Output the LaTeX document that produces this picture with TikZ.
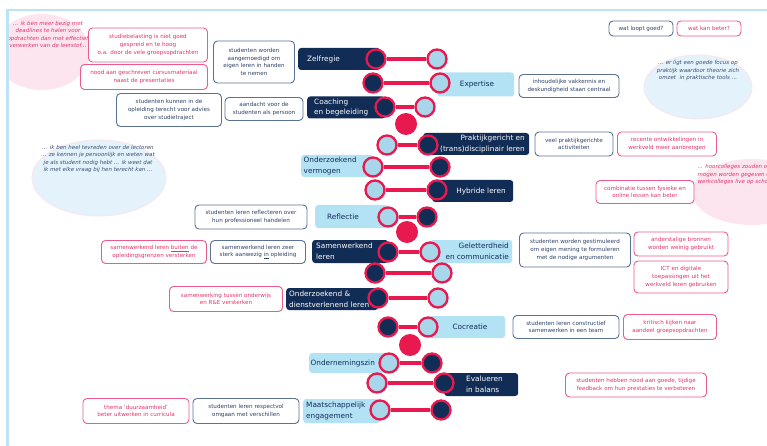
\documentclass[tikz,border=0pt]{standalone}
\usepackage{fontspec}
\setmainfont{DejaVu Sans}
\definecolor{navy}{HTML}{112C55}
\definecolor{lbox}{HTML}{B4E2F5}
\definecolor{lcirc}{HTML}{A8D6EA}
\definecolor{hred}{HTML}{E8194F}
\definecolor{bbord}{HTML}{5A7296}
\definecolor{btext}{HTML}{2C4166}
\definecolor{pbord}{HTML}{EB5C8C}
\definecolor{ptext}{HTML}{E2336A}
\definecolor{framec}{HTML}{BDE3F8}
\definecolor{qblue}{HTML}{E3F2FB}
\definecolor{qpink}{HTML}{FCE5EE}
\definecolor{qbtext}{HTML}{3A4E73}
\begin{document}
\begin{tikzpicture}[x=1pt,y=-1pt,
  cbox/.style={draw, fill=white, rounded corners=4pt, line width=0.9pt, align=center, inner sep=0pt, font=\fontsize{5.6}{7.6}\selectfont},
  bbox/.style={cbox, draw=bbord, text=btext},
  pbox/.style={cbox, draw=pbord, text=ptext},
  lab/.style={rounded corners=3pt, inner sep=0pt, anchor=west},
  navylab/.style={lab, fill=navy},
  lightlab/.style={lab, fill=lbox},
  labtxt/.style={inner sep=0pt, font=\fontsize{7.3}{10.8}\selectfont},
  navytxt/.style={labtxt, text=white},
  lighttxt/.style={labtxt, text=navy},
  dk/.style={circle, draw=hred, line width=2.3pt, fill=navy, minimum size=19pt, inner sep=0pt},
  lt/.style={dk, fill=lcirc},
  rd/.style={circle, fill=hred, minimum size=22pt, inner sep=0pt},
  bar/.style={draw=hred, line width=4pt},
  quote/.style={font=\fontsize{5.5}{7.5}\selectfont\itshape, align=center, inner sep=0pt}
]
\useasboundingbox (0,0) rectangle (767,446);
\fill[white] (0,0) rectangle (767,446);

% quote clouds
\begin{scope}
\clip (8.8,0) rectangle (767,446);
\fill[qpink] (42,52) ellipse (48 and 38);
\node[quote, text=ptext] (q1) at (48,34.5) {... ik ben meer bezig met\\deadlines te halen voor\\opdrachten dan met effectief\\verwerken van de leerstof...};
\fill[qblue, draw=qpink, line width=1pt] (99,178) ellipse (67 and 38);
\node[quote, text=qbtext] (q2) at (98,159) {... ik ben heel tevreden over de lectoren\\... ze kennen je persoonlijk en weten wat\\je als student nodig hebt ... ik weet dat\\ik met elke vraag bij hen terecht kan ...};
\fill[qblue, draw=qpink, line width=1pt] (698,87) ellipse (54 and 32);
\node[quote, text=qbtext] (q3) at (698,70.5) {... er ligt een goede focus op\\praktijk waardoor theorie zich\\omzet\ \ in praktische tools ...};
\fill[qpink] (752,192) ellipse (60 and 33);
\node[quote, text=ptext, align=left, anchor=west] (q4) at (697.5,174.5) {... hoorcolleges zouden online\\mogen worden gegeven en\\werkcolleges live op school ...};
\end{scope}

% frame
\draw[framec, line width=2.6pt] (7.5,446) -- (7.5,10) -- (767,10);

% label boxes
\node[navylab, minimum width=82pt, minimum height=22pt] (bZelf) at (298,59) {};
\node[lightlab, minimum width=77pt, minimum height=24pt] (bExp) at (437,84.5) {};
\node[navylab, minimum width=78pt, minimum height=22pt] (bCoach) at (307,107.5) {};
\node[navylab, minimum width=106pt, minimum height=22pt] (bPrak) at (423,144) {};
\node[lightlab, minimum width=72pt, minimum height=22pt] (bOnd) at (301,166) {};
\node[navylab, minimum width=81pt, minimum height=22pt] (bHyb) at (432,191) {};
\node[lightlab, minimum width=73pt, minimum height=23pt] (bRefl) at (315,216.5) {};
\node[navylab, minimum width=76pt, minimum height=23pt] (bSam) at (312,251.5) {};
\node[lightlab, minimum width=82pt, minimum height=23pt] (bGel) at (430,251.5) {};
\node[navylab, minimum width=92pt, minimum height=22pt] (bOD) at (286,299) {};
\node[lightlab, minimum width=77pt, minimum height=22pt] (bCoc) at (428,327) {};
\node[lightlab, minimum width=80pt, minimum height=20pt] (bOnz) at (309,363) {};
\node[navylab, minimum width=74pt, minimum height=23pt] (bEval) at (444,384.5) {};
\node[lightlab, minimum width=77pt, minimum height=24pt] (bMaat) at (303,411) {};

% label texts
\node[navytxt, anchor=west] (tZelf) at (307,59) {Zelfregie};
\node[lighttxt] (tExp) at (477,84.5) {Expertise};
\node[navytxt, anchor=west, align=left] (tCoach) at (314,107.5) {Coaching\\en begeleiding};
\node[navytxt, anchor=east, align=right] (tPrak) at (525,144) {Praktijkgericht en\\(trans)disciplinair leren};
\node[lighttxt, anchor=west, align=left] (tOnd) at (303.5,166) {Onderzoekend\\vermogen};
\node[navytxt] (tHyb) at (481,191) {Hybride leren};
\node[lighttxt] (tRefl) at (343,216.5) {Reflectie};
\node[navytxt, anchor=west, align=left] (tSam) at (316,251.5) {Samenwerkend\\leren};
\node[lighttxt, anchor=east, align=right] (tGel) at (509,251.5) {Geletterdheid\\en communicatie};
\node[navytxt, anchor=west, align=left] (tOD) at (289,299) {Onderzoekend \&\\dienstverlenend leren};
\node[lighttxt] (tCoc) at (470,327) {Cocreatie};
\node[lighttxt, anchor=west] (tOnz) at (310.5,363) {Ondernemingszin};
\node[navytxt, anchor=west, align=left] (tEval) at (466,384.5) {Evalueren\\in balans};
\node[lighttxt, anchor=west, align=left] (tMaat) at (306,411) {Maatschappelijk\\engagement};

% helix circles
\node[dk] (a1) at (376,59) {};   \node[lt] (b1) at (437,59) {};
\node[dk] (a2) at (373,83) {};   \node[lt] (b2) at (440,83) {};
\node[dk] (a3) at (385,107) {};  \node[lt] (b3) at (425,107) {};
\node[lt] (a4) at (387,145) {};  \node[dk] (b4) at (428,145) {};
\node[lt] (a5) at (373,167) {};  \node[dk] (b5) at (440,167) {};
\node[lt] (a6) at (375,190) {};  \node[dk] (b6) at (437,190) {};
\node[lt] (a7) at (388,217) {};  \node[dk] (b7) at (427,217) {};
\node[dk] (a8) at (388,252) {};  \node[lt] (b8) at (430,252) {};
\node[dk] (a9) at (375,273) {};  \node[lt] (b9) at (442,273) {};
\node[dk] (a10) at (378,298) {}; \node[lt] (b10) at (438,298) {};
\node[dk] (a11) at (388,327) {}; \node[lt] (b11) at (428,327) {};
\node[lt] (a12) at (389,363) {}; \node[dk] (b12) at (432,363) {};
\node[lt] (a13) at (377,383) {}; \node[dk] (b13) at (444,383) {};
\node[lt] (a14) at (380,410) {}; \node[dk] (b14) at (441,410) {};
\node[rd] (k1) at (406,124) {};
\node[rd] (k2) at (407,232) {};
\node[rd] (k3) at (410,345) {};
\foreach \i in {1,...,14} { \draw[bar] (a\i) -- (b\i); }

% comment boxes
\node[pbox, minimum width=119pt, minimum height=34pt] (c1) at (148,45) {studiebelasting is niet goed\\gespreid en te hoog\\o.a. door de vele groepsopdrachten};
\node[pbox, minimum width=127pt, minimum height=25pt] (c2) at (144,77) {nood aan geschreven cursusmateriaal\\naast de presentaties};
\node[bbox, minimum width=105pt, minimum height=33pt] (c3) at (169,110) {studenten kunnen in de\\opleiding terecht voor advies\\over studietraject};
\node[bbox, minimum width=81pt, minimum height=42pt] (c4) at (254,62) {studenten worden\\aangemoedigd om\\eigen leren in handen\\te nemen};
\node[bbox, minimum width=78pt, minimum height=23pt] (c5) at (264,109) {aandacht voor de\\studenten als persoon};
\node[bbox, minimum width=100pt, minimum height=23pt] (c6) at (569,86) {inhoudelijke vakkennis en\\deskundigheid staan centraal};
\node[bbox, minimum width=64pt, minimum height=15pt] (c7) at (641,28.5) {wat loopt goed?};
\node[pbox, minimum width=64pt, minimum height=15pt] (c8) at (709,28.5) {wat kan beter?};
\node[bbox, minimum width=78pt, minimum height=24pt] (c10) at (574,144) {veel praktijkgerichte\\activiteiten};
\node[pbox, minimum width=99pt, minimum height=24pt] (c11) at (667,144) {recente ontwikkelingen in\\werkveld meer aanbrengen};
\node[pbox, minimum width=98pt, minimum height=23pt] (c12) at (645,192) {combinatie tussen fysieke en\\online lessen kan beter};
\node[bbox, minimum width=111pt, minimum height=34pt] (c13) at (575,250) {studenten worden gestimuleerd\\om eigen mening te formuleren\\met de nodige argumenten};
\node[pbox, minimum width=94pt, minimum height=24pt] (c14) at (681,244) {anderstalige bronnen\\worden weinig gebruikt};
\node[pbox, minimum width=94pt, minimum height=32pt] (c15) at (681,277) {ICT en digitale\\toepassingen uit het\\werkveld leren gebruiken};
\node[bbox, minimum width=106pt, minimum height=23pt] (c16) at (566,327) {studenten leren constructief\\samenwerken in een team};
\node[pbox, minimum width=93pt, minimum height=25pt] (c17) at (670,327) {kritisch kijken naar\\aandeel groepsopdrachten};
\node[pbox, minimum width=141pt, minimum height=24pt] (c18) at (636,385) {studenten hebben nood aan goede, tijdige\\feedback om hun prestaties te verbeteren};
\node[bbox, minimum width=112pt, minimum height=24pt] (c19) at (251,217) {studenten leren reflecteren over\\hun professioneel handelen};
\node[pbox, minimum width=105pt, minimum height=23pt] (c20) at (154,252) {samenwerkend leren \underline{buiten} de\\opleidingsgrenzen versterken};
\node[bbox, minimum width=95pt, minimum height=23pt] (c21) at (258,252) {samenwerkend leren zeer\\sterk aanwezig \underline{in} opleiding};
\node[pbox, minimum width=113pt, minimum height=25pt] (c22) at (226,299) {samenwerking tussen onderwijs\\en R\&E versterken};
\node[pbox, minimum width=106pt, minimum height=25pt] (c23) at (136,411) {thema `duurzaamheid'\\beter uitwerken in curricula};
\node[bbox, minimum width=106pt, minimum height=25pt] (c24) at (246,411) {studenten leren respectvol\\omgaan met verschillen};
\end{tikzpicture}
\end{document}
